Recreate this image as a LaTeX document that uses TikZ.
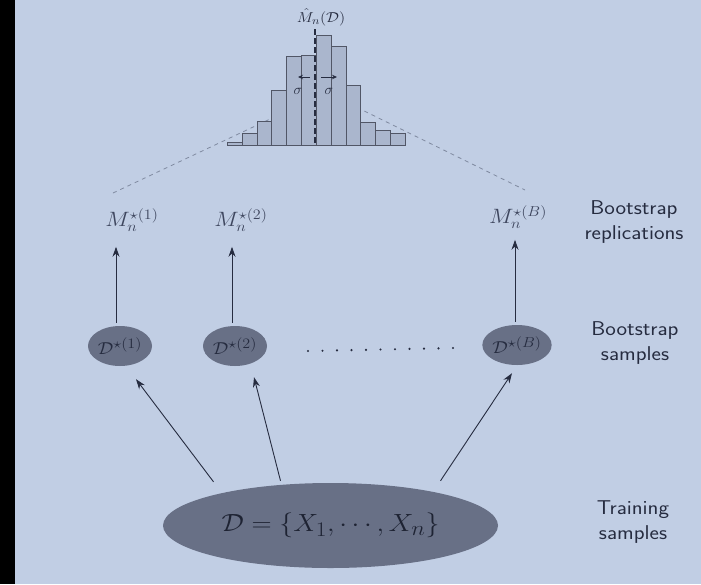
\documentclass[tikz,border=0pt]{standalone}
\usepackage{graphicx}
\usetikzlibrary{shapes.geometric,arrows.meta,calc}
\definecolor{paper}{RGB}{193,206,228}
\definecolor{ink}{RGB}{38,44,64}
\definecolor{mink}{RGB}{62,70,94}
\definecolor{ellfill}{RGB}{104,112,134}
\definecolor{barfill}{RGB}{170,182,205}
\definecolor{dashgray}{RGB}{128,138,160}
\newcommand{\hst}[1]{\scalebox{1.12}[1]{#1}}
\begin{document}
\begin{tikzpicture}[x=1pt,y=-1pt,
  arr/.style={-{Stealth[length=10pt,width=7pt]}, line width=0.9pt, draw=ink},
  sarr/.style={-{Stealth[length=5pt,width=4.5pt]}, line width=0.8pt, draw=ink},
  samp/.style={ellipse, fill=ellfill, minimum width=64pt, minimum height=40pt, inner sep=0pt, text=ink, font=\fontsize{19}{22}\selectfont},
  rep/.style={text=mink, inner sep=0pt, font=\fontsize{21.5}{25}\selectfont},
  side/.style={align=center, text=ink, inner sep=0pt, font=\sffamily\fontsize{20}{25}\selectfont},
  bar/.style={fill=barfill, draw=ink!80, line width=0.7pt},
  guide/.style={dashgray, line width=0.8pt, dash pattern=on 4pt off 4pt}]
\useasboundingbox (0,0) rectangle (701,584);
\fill[paper] (0,0) rectangle (701,584);
\fill[black] (0,0) rectangle (15,584);

% guide lines behind the histogram
\draw[guide] (113,193) -- (285,112);
\draw[guide] (350,104) -- (525,190);

% histogram
\foreach \h [count=\i from 0] in {142.3,133.3,121.7,90,56,55,35,46,85.3,122.3,130.7,133.3}
  \draw[bar] ({227.3+14.83*\i},145) rectangle ({227.3+14.83*(\i+1)},\h);
\node[text=ink, inner sep=0pt, font=\fontsize{15}{18}\selectfont] (mhat) at (321,17) {\hst{$\hat M_n(\mathcal D)$}};
\draw[ink, line width=2pt, dash pattern=on 6pt off 3pt] (315,29) -- (315,145);
\draw[sarr] (310,77) -- (298,77);
\draw[sarr] (321,77) -- (337,77);
\node[text=ink, inner sep=0pt, font=\fontsize{14}{16}\selectfont] (sl) at (298,91) {$\sigma$};
\node[text=ink, inner sep=0pt, font=\fontsize{14}{16}\selectfont] (sr) at (329,91) {$\sigma$};

% bootstrap replications
\node[rep] (m1) at (132,220) {\hst{$M_n^{\star(1)}$}};
\node[rep] (m2) at (241,220) {\hst{$M_n^{\star(2)}$}};
\node[rep] (mB) at (518,217) {\hst{$M_n^{\star(B)}$}};

% bootstrap samples
\node[samp] (d1) at (120,346) {\hst{$\mathcal D^{\star(1)}$}};
\node[samp] (d2) at (235,346) {\hst{$\mathcal D^{\star(2)}$}};
\node[samp] (dB) at (517,345) {\hst{$\mathcal D^{\star(B)}$}};
\foreach \i in {0,...,10}
  \fill[ink] ({308+14.5*\i},{351-0.3*\i}) circle (1.2pt);

% training samples
\node[ellipse, fill=ellfill, minimum width=335pt, minimum height=85pt, inner sep=0pt,
      text=ink!80!black, font=\fontsize{27.5}{31}\selectfont] (big) at (330.5,525.5)
      {\hst{$\mathcal D=\{X_1,\cdots,X_n\}$}};

% side labels
\node[side] (lrep) at (634,222) {\hst{Bootstrap}\\\hst{replications}};
\node[side] (lsam) at (635,343) {\hst{Bootstrap}\\\hst{samples}};
\node[side] (ltra) at (633,522) {\hst{Training}\\\hst{samples}};

% arrows
\draw[arr, shorten <=3pt] ([xshift=-4pt]d1.north) -- ++(0,-79);
\draw[arr, shorten <=3pt] ([xshift=-3pt]d2.north) -- ++(0,-79);
\draw[arr, shorten <=3pt] ([xshift=-2pt]dB.north) -- ++(0,-85);

\coordinate (s1) at ([shift={(-117,-1)}]big.north);
\coordinate (s2) at ([shift={(-50,-2)}]big.north);
\coordinate (s3) at ([shift={(110,-2)}]big.north);
\draw[arr] (s1) -- ([shift={(16,13)}]d1.south);
\draw[arr] (s2) -- ([shift={(19,11)}]d2.south);
\draw[arr] (s3) -- ([shift={(-5,8)}]dB.south);
\end{tikzpicture}
\end{document}
